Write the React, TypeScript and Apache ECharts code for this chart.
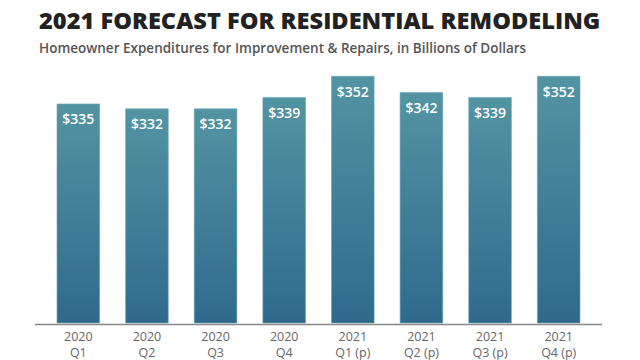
import React, { useEffect, useRef } from "react";
import * as echarts from "echarts";

const categories = ["2020\nQ1", "2020\nQ2", "2020\nQ3", "2020\nQ4", "2021\nQ1 (p)", "2021\nQ2 (p)", "2021\nQ3 (p)", "2021\nQ4 (p)"];
const values = [335, 332, 332, 339, 352, 342, 339, 352];
const titleText = "2021 FORECAST FOR RESIDENTIAL REMODELING";
const subtitleText = "Homeowner Expenditures for Improvement & Repairs, in Billions of Dollars";

export default function App() {
  const ref = useRef<HTMLDivElement>(null);
  useEffect(() => {
    const chart = echarts.init(ref.current!, null, { renderer: "svg" });
    chart.setOption({
      animation: false,
      backgroundColor: "#ffffff",
      title: [
        {
          text: titleText,
          left: 34,
          top: 3,
          textStyle: { fontFamily: "Open Sans", fontWeight: 800, fontSize: 23.6, color: "#222222" },
        },
        {
          text: subtitleText,
          left: 34,
          top: 36,
          textStyle: { fontFamily: "Open Sans", fontWeight: 600, fontSize: 13.5, color: "#555555" },
        },
      ],
      grid: { left: 44, right: 47, top: 63, bottom: 36, containLabel: false },
      xAxis: {
        type: "category",
        data: categories,
        axisLine: { show: false },
        axisTick: { show: false },
        axisLabel: {
          color: "#666666",
          fontFamily: "Open Sans",
          fontSize: 12.5,
          lineHeight: 16,
          margin: 5,
        },
      },
      yAxis: {
        type: "value",
        min: 200,
        max: 360,
        show: false,
        splitLine: { show: false },
      },
      series: [
        {
          type: "bar",
          data: values,
          barCategoryGap: "37%",
          itemStyle: {
            color: new echarts.graphic.LinearGradient(0, 0, 0, 1, [
              { offset: 0, color: "#5394a2" },
              { offset: 1, color: "#2f6a8d" },
            ]),
            borderColor: "#6aa6b3",
            borderWidth: 0.6,
          },
          label: {
            show: true,
            position: "insideTop",
            distance: 8,
            formatter: (p: any) => "$" + p.value,
            color: "#ffffff",
            fontFamily: "Open Sans",
            fontWeight: 600,
            fontSize: 14,
          },
        },
      ],
      graphic: [
        {
          type: "line",
          shape: { x1: 35, y1: 324.5, x2: 602, y2: 324.5 },
          style: { stroke: "#888888", lineWidth: 1.5 },
          z: 10,
        },
      ],
    });
    return () => chart.dispose();
  }, []);
  return <div ref={ref} style={{ width: 640, height: 360, position: "absolute", left: 0, top: 0 }} />;
}
